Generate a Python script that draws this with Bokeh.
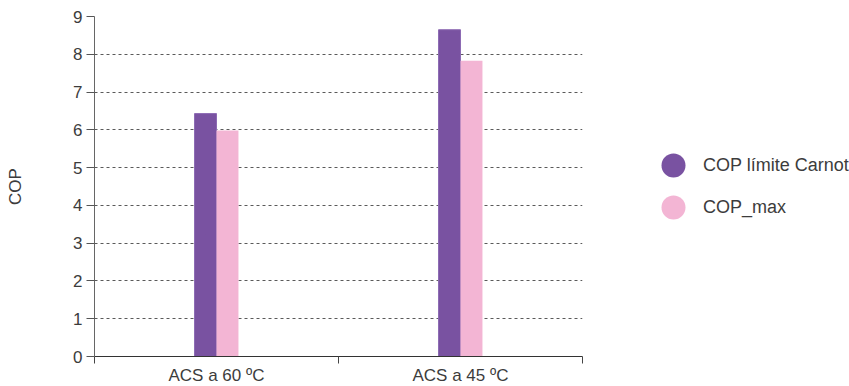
from bokeh.plotting import figure
from bokeh.models import Range1d, FixedTicker, Legend, LegendItem, ColumnDataSource
from bokeh.embed import file_html
from bokeh.resources import INLINE

categories = ["ACS a 60 ºC", "ACS a 45 ºC"]
cop_carnot = [6.43, 8.65]
cop_max = [5.98, 7.83]
series_names = ["COP límite Carnot", "COP_max"]
y_ticks = [0, 1, 2, 3, 4, 5, 6, 7, 8, 9]

PURPLE = "#7952a1"
PINK = "#f3b5d4"
TEXT = "#3c3c3c"
FONT = "Liberation Sans"
FS = "17px"

bar_w = 0.09
centers = [i + 0.5 for i in range(len(categories))]
src = ColumnDataSource(dict(
    x1=[c - bar_w / 2 for c in centers],
    x2=[c + bar_w / 2 for c in centers],
    carnot=cop_carnot,
    cmax=cop_max,
    carnot_mid=[v / 2 for v in cop_carnot],
    cmax_mid=[v / 2 for v in cop_max],
))

p = figure(frame_width=488, frame_height=340, output_backend="svg", toolbar_location=None,
           x_range=Range1d(0, len(categories)), y_range=Range1d(0, 9),
           min_border_left=94, min_border_right=267, min_border_top=16, min_border_bottom=22)
p.outline_line_color = None
p.background_fill_color = "white"

r1 = p.vbar(x="x1", top="carnot", width=bar_w, source=src, fill_color=PURPLE,
            line_color="#8c6ab3", line_width=1)
r2 = p.vbar(x="x2", top="cmax", width=bar_w, source=src, fill_color=PINK, line_color=None)

# axes
p.xaxis.ticker = FixedTicker(ticks=centers, minor_ticks=list(range(len(categories) + 1)))
p.xaxis.major_label_overrides = {c: lab for c, lab in zip(centers, categories)}
p.xaxis.major_tick_line_color = None
p.xaxis.minor_tick_in = 0
p.xaxis.minor_tick_out = 7
p.xaxis.minor_tick_line_color = "#444444"
p.xaxis.axis_line_color = "#333333"
p.xaxis.major_label_text_font = FONT
p.xaxis.major_label_text_font_size = FS
p.xaxis.major_label_text_color = TEXT
p.xaxis.major_label_standoff = 2

p.yaxis.ticker = FixedTicker(ticks=y_ticks)
p.yaxis.minor_tick_line_color = None
p.yaxis.major_tick_in = 0
p.yaxis.major_tick_out = 8
p.yaxis.major_tick_line_color = "#555555"
p.yaxis.axis_line_color = "#666666"
p.yaxis.major_label_text_font = FONT
p.yaxis.major_label_text_font_size = FS
p.yaxis.major_label_text_color = TEXT
p.yaxis.major_label_standoff = 4
p.yaxis.axis_label = "COP"
p.yaxis.axis_label_text_font = FONT
p.yaxis.axis_label_text_font_size = FS
p.yaxis.axis_label_text_font_style = "normal"
p.yaxis.axis_label_text_color = TEXT
p.yaxis.axis_label_standoff = 45

p.xgrid.grid_line_color = None
p.ygrid.grid_line_color = "#5a5a5a"
p.ygrid.grid_line_dash = "3 3"
p.ygrid.grid_line_width = 1

# legend proxies: 1px round ellipses hidden inside their own bars
l1 = p.ellipse(x="x1", y="carnot_mid", width=1, height=1, width_units="screen",
               height_units="screen", source=src, fill_color=PURPLE, line_color=None)
l2 = p.ellipse(x="x2", y="cmax_mid", width=1, height=1, width_units="screen",
               height_units="screen", source=src, fill_color=PINK, line_color=None)

legend = Legend(items=[LegendItem(label=series_names[0], renderers=[l1], index=0),
                       LegendItem(label=series_names[1], renderers=[l2], index=0)],
                location=(76, 134), orientation="vertical",
                glyph_width=30, glyph_height=30, spacing=12, padding=0, margin=0,
                label_standoff=15, border_line_color=None, background_fill_alpha=0,
                label_text_font=FONT, label_text_font_size="18px", label_text_color=TEXT)
p.add_layout(legend, "right")

open("out.html", "w").write(file_html(p, INLINE))
